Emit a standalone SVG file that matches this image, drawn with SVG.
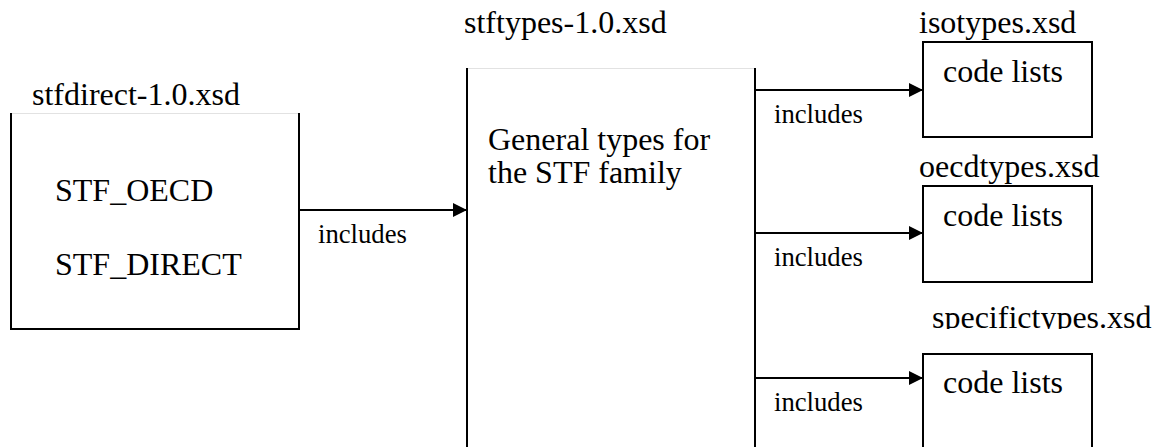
<svg xmlns="http://www.w3.org/2000/svg" width="1166" height="447" viewBox="0 0 1166 447" font-family="'Liberation Serif', 'DejaVu Serif', serif">
  <style>
    text { font-family: 'Liberation Serif', 'DejaVu Serif', serif; fill: #000; }
    .t { font-size: 32px; }
    .s { font-size: 26.7px; }
    .box { fill: #fff; stroke: #000; stroke-width: 2; }
    .edge { fill: none; stroke: #000; stroke-width: 2; }
    .faint { fill: none; stroke: #e2e2e2; stroke-width: 1; }
    .conn { fill: none; stroke: #000; stroke-width: 2; marker-end: url(#arrow); }
  </style>
  <defs>
    <marker id="arrow" markerUnits="userSpaceOnUse" markerWidth="15" markerHeight="15" refX="14" refY="7" orient="auto">
      <path d="M0,0 L14,7 L0,14 Z" fill="#000"/>
    </marker>
    <clipPath id="clipSpec">
      <rect x="900" y="290" width="266" height="39"/>
    </clipPath>
  </defs>
  <rect width="1166" height="447" fill="#fff"/>

  <g id="stfdirect">
    <text class="t" x="32" y="105">stfdirect-1.0.xsd</text>
    <line class="faint" x1="11" y1="113.5" x2="299" y2="113.5"/>
    <path class="edge" d="M11,113 V329 H299 V113"/>
    <text class="t" x="55" y="201">STF_OECD</text>
    <text class="t" x="55" y="275">STF_DIRECT</text>
  </g>

  <g id="stftypes">
    <text class="t" x="464" y="33">stftypes-1.0.xsd</text>
    <line class="faint" x1="467" y1="68.5" x2="755" y2="68.5"/>
    <path class="edge" d="M467,450 V68 M755,68 V450"/>
    <text class="t" x="488" y="150">General types for</text>
    <text class="t" x="488" y="183">the STF family</text>
  </g>

  <g id="isotypes">
    <rect class="box" x="923" y="42" width="169" height="95"/>
    <text class="t" x="919" y="33">isotypes.xsd</text>
    <text class="t" x="943" y="82">code lists</text>
  </g>

  <g id="oecdtypes">
    <rect class="box" x="923" y="186" width="169" height="96"/>
    <text class="t" x="919" y="177">oecdtypes.xsd</text>
    <text class="t" x="943" y="226">code lists</text>
  </g>

  <g id="specifictypes">
    <text class="t" x="932" y="328" clip-path="url(#clipSpec)">specifictypes.xsd</text>
    <path class="box" d="M923,450 V354 H1092 V450"/>
    <text class="t" x="943" y="393">code lists</text>
  </g>

  <g id="connectors">
    <line class="conn" x1="299" y1="210" x2="467" y2="210"/>
    <line class="conn" x1="755" y1="90" x2="923" y2="90"/>
    <line class="conn" x1="755" y1="233" x2="923" y2="233"/>
    <line class="conn" x1="755" y1="378" x2="923" y2="378"/>
    <text class="s" x="318" y="243">includes</text>
    <text class="s" x="774" y="123">includes</text>
    <text class="s" x="774" y="266">includes</text>
    <text class="s" x="774" y="411">includes</text>
  </g>
</svg>
